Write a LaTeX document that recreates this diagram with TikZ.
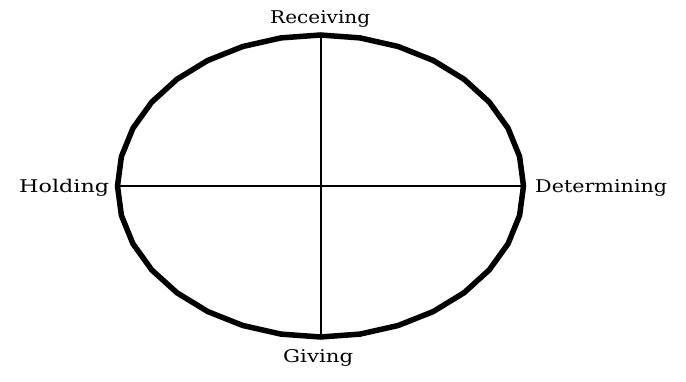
\documentclass[tikz,border=0pt]{standalone}
\usepackage{fontspec}
\setmainfont{DejaVu Serif}
\newcommand{\lbltext}[2]{\resizebox{#1}{\height}{\fontsize{17.5}{20}\selectfont #2}}
\begin{document}
\begin{tikzpicture}[x=1pt,y=1pt,
  lbl/.style={inner sep=0pt, anchor=base west},
  ring/.style={line width=5.5pt, line join=miter},
  axisline/.style={line width=2pt}]
\useasboundingbox (0,0) rectangle (686,381);
\foreach \k in {0,...,31}{
  \coordinate (v\k) at ({320.5+203*cos(11.25*\k)},{195+151*sin(11.25*\k)});
}
\draw[ring] (v0) -- (v1) -- (v2) -- (v3) -- (v4) -- (v5) -- (v6) -- (v7) -- (v8)
  -- (v9) -- (v10) -- (v11) -- (v12) -- (v13) -- (v14) -- (v15) -- (v16)
  -- (v17) -- (v18) -- (v19) -- (v20) -- (v21) -- (v22) -- (v23) -- (v24)
  -- (v25) -- (v26) -- (v27) -- (v28) -- (v29) -- (v30) -- (v31) -- cycle;
\draw[axisline] (v8) -- (v24);
\draw[axisline] (v16) -- (v0);
\node[lbl] (rec) at (270,357) {\lbltext{100pt}{Receiving}};
\node[lbl] (hold) at (19,189) {\lbltext{90pt}{Holding}};
\node[lbl] (det) at (535,189) {\lbltext{132pt}{Determining}};
\node[lbl] (giv) at (283,19) {\lbltext{70pt}{Giving}};
\end{tikzpicture}
\end{document}
